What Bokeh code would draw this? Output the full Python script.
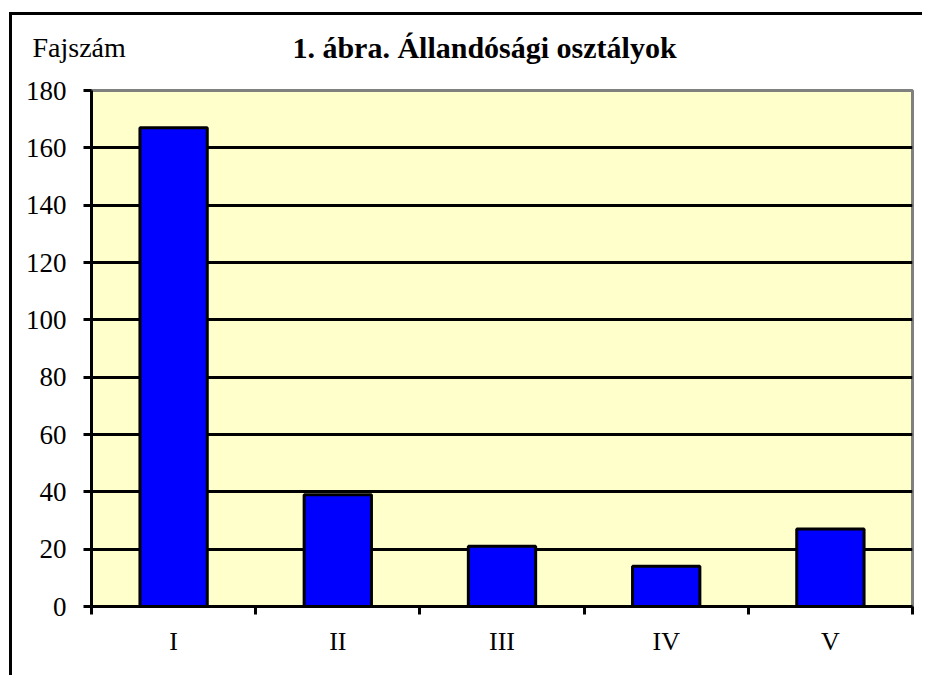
from bokeh.plotting import figure
from bokeh.layouts import column
from bokeh.models import Range1d, FixedTicker
from bokeh.core.properties import value
from bokeh.embed import file_html
from bokeh.resources import INLINE

categories = ["I", "II", "III", "IV", "V"]
values = [167, 39, 21, 14, 27]
y_ticks = [0, 20, 40, 60, 80, 100, 120, 140, 160, 180]
title_text = "1. ábra. Állandósági osztályok"
y_title = "Fajszám"

FONT = "Liberation Serif"
W = 910
HEAD_H = 60
CHART_H = 600

# ---- header (texts) ----
head = figure(width=W, height=HEAD_H, output_backend="svg", toolbar_location=None,
              x_range=Range1d(0, W), y_range=Range1d(0, HEAD_H),
              min_border=0, x_axis_type=None, y_axis_type=None)
head.grid.visible = False
head.outline_line_color = None
head.background_fill_color = "white"
head.border_fill_color = "white"
head.text(x=[20], y=[HEAD_H - 32], text=[y_title], text_font=value(FONT),
          text_font_size="28px", text_baseline="middle", text_align="left",
          text_color="black")
head.text(x=[472], y=[HEAD_H - 32], text=[title_text], text_font=value(FONT),
          text_font_size="30px", text_font_style="bold", text_baseline="middle",
          text_align="center", text_color="black")

# ---- chart ----
p = figure(width=W, height=CHART_H, output_backend="svg", toolbar_location=None,
           x_range=Range1d(0, len(categories)), y_range=Range1d(0, 180),
           min_border_left=79, min_border_right=10, min_border_top=15, min_border_bottom=69)
p.background_fill_color = "#FFFFCC"
p.border_fill_color = "white"
p.outline_line_color = "#808080"
p.outline_line_width = 3

centers = [i + 0.5 for i in range(len(categories))]
p.vbar(x=centers, top=values, width=0.41, bottom=0,
       fill_color="#0000FF", line_color="black", line_width=3)

xa = p.xaxis[0]
xa.ticker = FixedTicker(ticks=centers, minor_ticks=list(range(len(categories) + 1)))
xa.major_label_overrides = {c: lab for c, lab in zip(centers, categories)}
xa.major_tick_out = 0
xa.major_tick_in = 0
xa.minor_tick_out = 8
xa.minor_tick_in = 0
xa.minor_tick_line_width = 3
xa.minor_tick_line_color = "black"
xa.axis_line_width = 3
xa.axis_line_color = "black"
xa.major_label_text_font = FONT
xa.major_label_text_font_size = "26px"
xa.major_label_text_color = "black"
xa.major_label_standoff = 12

ya = p.yaxis[0]
ya.ticker = FixedTicker(ticks=y_ticks)
ya.major_tick_out = 8
ya.major_tick_in = 0
ya.major_tick_line_width = 3
ya.minor_tick_line_color = None
ya.axis_line_width = 3
ya.axis_line_color = "black"
ya.major_label_text_font = FONT
ya.major_label_text_font_size = "27px"
ya.major_label_text_color = "black"
ya.major_label_standoff = 17

p.xgrid.visible = False
p.ygrid.ticker = FixedTicker(ticks=y_ticks[1:-1])
p.ygrid.grid_line_color = "black"
p.ygrid.grid_line_width = 3

layout = column(column(head, spacing=0, margin=0), p, spacing=0, margin=(12, 0, 0, 9),
                styles={"border-top": "3px solid black", "border-left": "3px solid black"})

open("out.html", "w").write(file_html(layout, INLINE))
